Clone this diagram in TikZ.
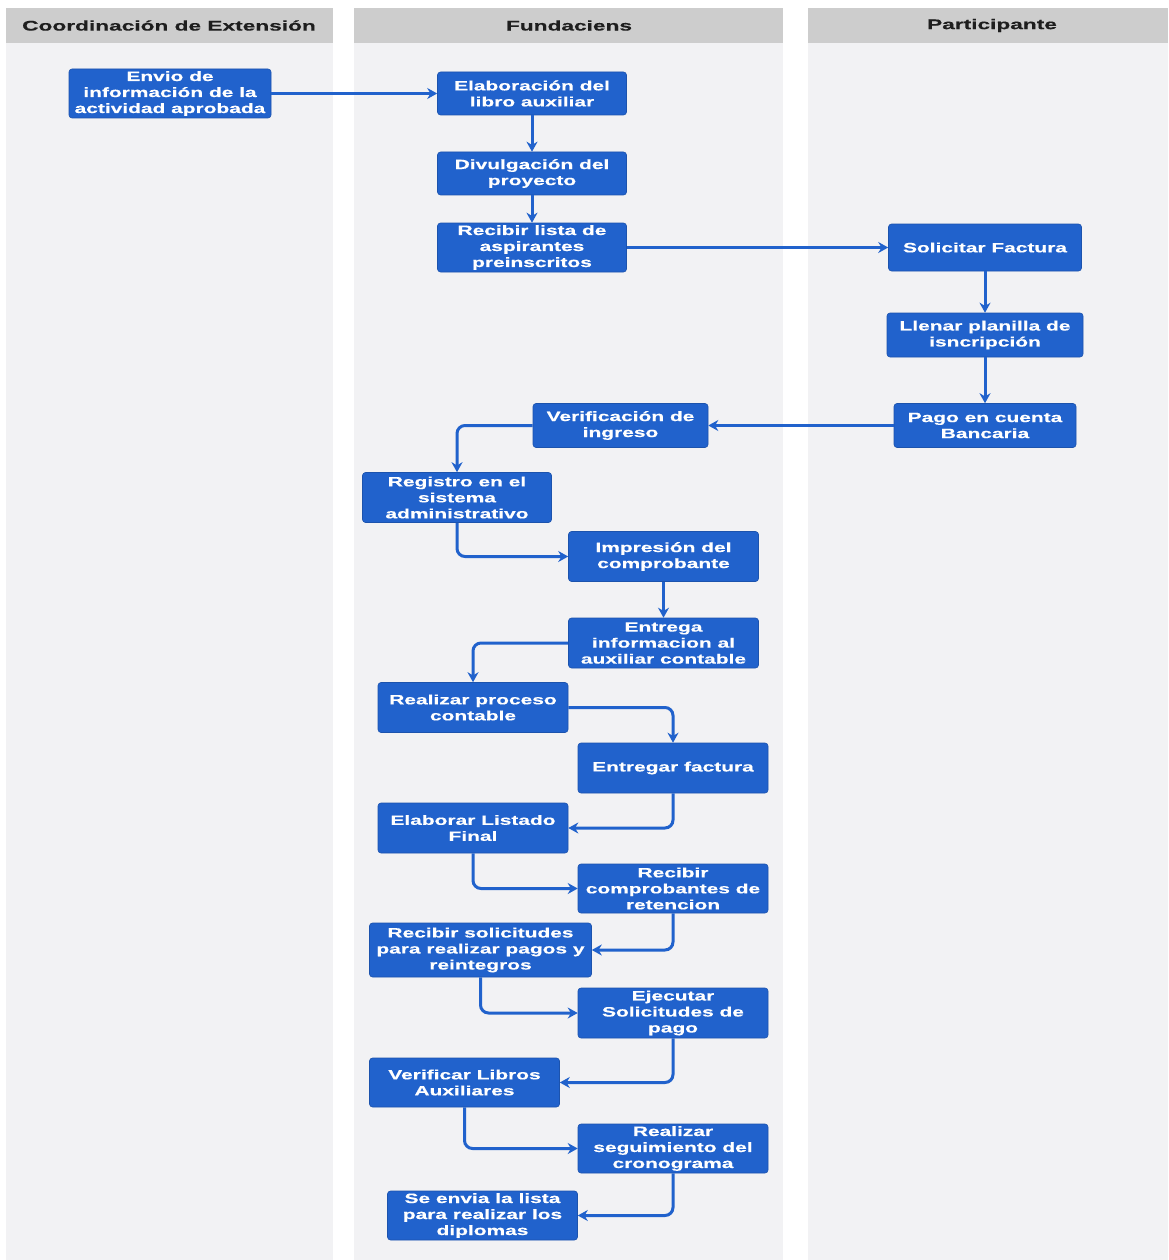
\documentclass[tikz,border=0pt]{standalone}
\usepackage{fontspec}
\setmainfont{Liberation Sans}
\newfontfamily\boxfont[FakeStretch=1.55,FakeBold=0.4]{Liberation Sans}
\newfontfamily\headfont[FakeStretch=1.62,FakeBold=0.4]{Liberation Sans}
\usetikzlibrary{arrows.meta}
\definecolor{boxblue}{RGB}{33,98,204}
\definecolor{laneback}{RGB}{242,242,244}
\definecolor{headgray}{RGB}{205,205,205}
\definecolor{headtext}{RGB}{30,30,30}
\tikzset{
 box/.style 2 args={draw=boxblue!85!black, line width=0.6pt, fill=boxblue, rounded corners=3pt,
   minimum width=#1pt, minimum height=#2pt, inner sep=1pt, align=center, text=white,
   font=\boxfont\bfseries\fontsize{13.5}{16}\selectfont},
 conn/.style={draw=boxblue, line width=3pt, rounded corners=8pt, -{Stealth[length=10pt,width=11pt]}},
 lanehead/.style={fill=headgray, draw=none},
 lanebody/.style={fill=laneback, draw=none},
 headlabel/.style={text=headtext, font=\headfont\bfseries\fontsize{14}{16}\selectfont},
}
\begin{document}
\begin{tikzpicture}[x=1pt,y=-1pt]
\useasboundingbox (0,0) rectangle (1168,1260);
\fill[white] (0,0) rectangle (1168,1260);
% lanes
\fill[lanebody] (6,43) rectangle (333,1260);
\fill[lanebody] (354,43) rectangle (783,1260);
\fill[lanebody] (808,43) rectangle (1168,1260);
\fill[lanehead] (6,8) rectangle (333,43);
\fill[lanehead] (354,8) rectangle (783,43);
\fill[lanehead] (808,8) rectangle (1168,43);
\node[headlabel] (h1) at (169,25.5) {Coordinación de Extensión};
\node[headlabel] (h2) at (569,25.5) {Fundaciens};
\node[headlabel] (h3) at (992,25.5) {Participante};
% nodes
\node[box={202}{49}] (n1) at (170,93.5) {Envio de\\información de la\\actividad aprobada};
\node[box={189}{43}] (n2) at (532,93.5) {Elaboración del\\libro auxiliar};
\node[box={189}{43}] (n3) at (532,173.5) {Divulgación del\\proyecto};
\node[box={189}{49}] (n4) at (532,247.5) {Recibir lista de\\aspirantes\\preinscritos};
\node[box={193}{47}] (n5) at (985,247.5) {Solicitar Factura};
\node[box={196}{44}] (n6) at (985,335) {Llenar planilla de\\isncripción};
\node[box={182}{44}] (n7) at (985,425.5) {Pago en cuenta\\Bancaria};
\node[box={175}{44}] (n8) at (620.5,425.5) {Verificación de\\ingreso};
\node[box={189}{50}] (n9) at (457,497.5) {Registro en el\\sistema\\administrativo};
\node[box={190}{50}] (n10) at (663.5,556.5) {Impresión del\\comprobante};
\node[box={190}{50}] (n11) at (663.5,643) {Entrega\\informacion al\\auxiliar contable};
\node[box={190}{50}] (n12) at (473,707.5) {Realizar proceso\\contable};
\node[box={190}{50}] (n13) at (673,768) {Entregar factura};
\node[box={190}{50}] (n14) at (473,828) {Elaborar Listado\\Final};
\node[box={190}{49}] (n15) at (673,888.5) {Recibir\\comprobantes de\\retencion};
\node[box={222}{54}] (n16) at (480.5,950) {Recibir solicitudes\\para realizar pagos y\\reintegros};
\node[box={190}{50}] (n17) at (673,1013) {Ejecutar\\Solicitudes de\\pago};
\node[box={190}{49}] (n18) at (464.5,1082.5) {Verificar Libros\\Auxiliares};
\node[box={190}{49}] (n19) at (673,1148.5) {Realizar\\seguimiento del\\cronograma};
\node[box={190}{49}] (n20) at (482.5,1215.5) {Se envia la lista\\para realizar los\\diplomas};
% connectors
\draw[conn] (n1.east) -- (n2.west);
\draw[conn] (n2.south) -- (n3.north);
\draw[conn] (n3.south) -- (n4.north);
\draw[conn] (n4.east) -- (n5.west);
\draw[conn] (n5.south) -- (n6.north);
\draw[conn] (n6.south) -- (n7.north);
\draw[conn] (n7.west) -- (n8.east);
\draw[conn] (n8.west) -| (n9.north);
\draw[conn] (n9.south) |- (n10.west);
\draw[conn] (n10.south) -- (n11.north);
\draw[conn] (n11.west) -| (n12.north);
\draw[conn] (n12.east) -| (n13.north);
\draw[conn] (n13.south) |- (n14.east);
\draw[conn] (n14.south) |- (n15.west);
\draw[conn] (n15.south) |- (n16.east);
\draw[conn] (n16.south) |- (n17.west);
\draw[conn] (n17.south) |- (n18.east);
\draw[conn] (n18.south) |- (n19.west);
\draw[conn] (n19.south) |- (n20.east);
\end{tikzpicture}
\end{document}
